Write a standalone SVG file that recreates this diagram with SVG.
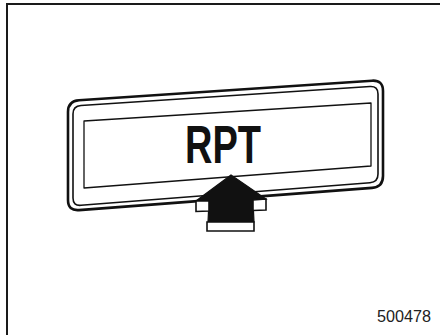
<svg xmlns="http://www.w3.org/2000/svg" width="440" height="335" viewBox="0 0 440 335">
<style>
.ln{fill:none;stroke:#111;stroke-linejoin:round}
.wb{fill:#fff;stroke:#111;stroke-width:1.6;stroke-linejoin:miter}
</style>
<rect x="0" y="0" width="440" height="335" fill="#fff"/>
<rect x="7" y="4" width="450" height="350" fill="none" stroke="#1a1a1a" stroke-width="2"/>
<g id="sign">
<path class="ln" stroke-width="2.6" d="M 79,100.3 L 372,80.7 Q 383,80 383,91 L 383,176 Q 383,187 372,187.9 L 79,210.1 Q 68,211 68,200 L 68,112 Q 68,101 79,100.3 Z"/>
<path class="ln" stroke-width="1.6" d="M 81,105.5 L 370,86.5 Q 378,86 378,94 L 378,174 Q 378,182 370,182.7 L 81,205.3 Q 73,206 73,198 L 73,114 Q 73,106 81,105.5 Z"/>
<path class="ln" stroke-width="1.3" d="M 84,121 L 371,103 L 371,166 L 84,188 Z"/>
<text x="223" y="163" font-family="Liberation Sans, Arial, sans-serif" font-weight="bold" font-size="53" text-anchor="middle" textLength="76" lengthAdjust="spacingAndGlyphs" fill="#111">RPT</text>
</g>
<g id="arrow">
<polygon points="231,175 196,201 209,201 208,222 254,222 253,200 266,199" fill="#111" stroke="#111" stroke-width="1.2" stroke-linejoin="miter"/>
<polygon class="wb" points="196,201 209,201 209,211 196,211.5"/>
<polygon class="wb" points="253,200 266,199 266,210 253,210.5"/>
<polygon class="wb" points="207,222 254,222 254,231 207,231"/>
</g>
<text x="431" y="322" font-family="Liberation Sans, Arial, sans-serif" font-size="16" text-anchor="end" textLength="54" lengthAdjust="spacingAndGlyphs" fill="#222">500478</text>
</svg>
